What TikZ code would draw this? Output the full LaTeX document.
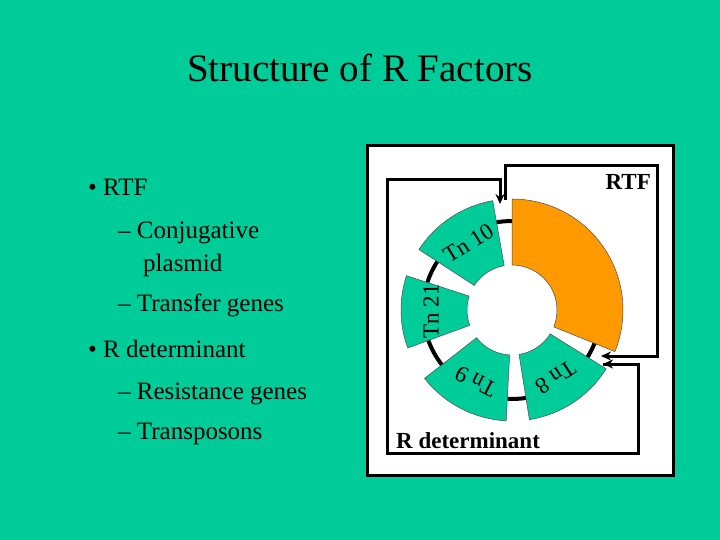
\documentclass[tikz,border=0pt]{standalone}
\usepackage{fontspec}
\setmainfont{Liberation Serif}
\usetikzlibrary{arrows.meta,calc}
\definecolor{bg}{RGB}{0,204,153}
\definecolor{seg}{RGB}{0,204,153}
\definecolor{orng}{RGB}{255,153,0}
\tikzset{
  txt/.style={anchor=base west,font=\fontsize{25}{28}\selectfont,inner sep=0},
  tn/.style={font=\fontsize{23}{26}\selectfont,inner sep=0},
  conn/.style={line width=3pt},
  tip/.style={-{Stealth[length=10pt,width=9pt]}},
  segm/.style={draw=black!70,line width=0.5pt},
}
\begin{document}
\begin{tikzpicture}[x=1pt,y=-1pt]
\fill[bg] (0,0) rectangle (720,540);
\useasboundingbox (0,0) rectangle (720,540);
\node[font=\fontsize{39}{42}\selectfont] (title) at (360,68) {Structure of R Factors};
\node[txt] (b1) at (88,196) {\textbullet\ RTF};
\node[txt] (c1) at (118,238) {– Conjugative};
\node[txt] (c2) at (143,271) {plasmid};
\node[txt] (c3) at (118,311) {– Transfer genes};
\node[txt] (b2) at (88,357) {\textbullet\ R determinant};
\node[txt] (d1) at (118,399) {– Resistance genes};
\node[txt] (d2) at (118,439) {– Transposons};
% box
\draw[fill=white,line width=3pt] (367,146) rectangle (673,475);
\coordinate (C) at (512,310);
\draw[line width=4pt] (C) circle[radius=89];
\newcommand\segdraw[3]{\filldraw[segm,fill=#3] ($(C)+(-#1:111)$) arc[start angle=-#1,end angle=-#2,radius=111] -- ($(C)+(-#2:45)$) arc[start angle=-#2,end angle=-#1,radius=45] -- cycle;}
\segdraw{90}{-22}{orng}
\segdraw{100}{147}{seg}
\segdraw{162}{200}{seg}
\segdraw{218}{267}{seg}
\segdraw{279}{328}{seg}
\node[tn,rotate=32] (t10) at ($(C)+(-123:80)$) {Tn 10};
\node[tn,rotate=90] (t21) at ($(C)+(-181:81)$) {Tn 21};
\node[tn,rotate=153] (t9) at ($(C)+(-243:80)$) {Tn 9};
\node[tn,rotate=213] (t8) at ($(C)+(-303:80)$) {Tn 8};
\node[font=\bfseries\fontsize{23}{26}\selectfont,anchor=base west,inner sep=0] (rdet) at (396,448) {R determinant};
\node[font=\bfseries\fontsize{23}{26}\selectfont,anchor=base east,inner sep=0] (rtf) at (651,190) {RTF};
\coordinate (a1) at (500,204);
\coordinate (a2) at (505,200);
\coordinate (b1e) at (603,364);
\coordinate (b2e) at (601,356);
\draw[conn,tip] (b1e) -| (638,453) -| (387,180) -| (a1);
\draw[conn,tip] (638,364) -- (b1e);
\draw[conn,tip] (a2) |- (657,166) |- (b2e);
\end{tikzpicture}
\end{document}
